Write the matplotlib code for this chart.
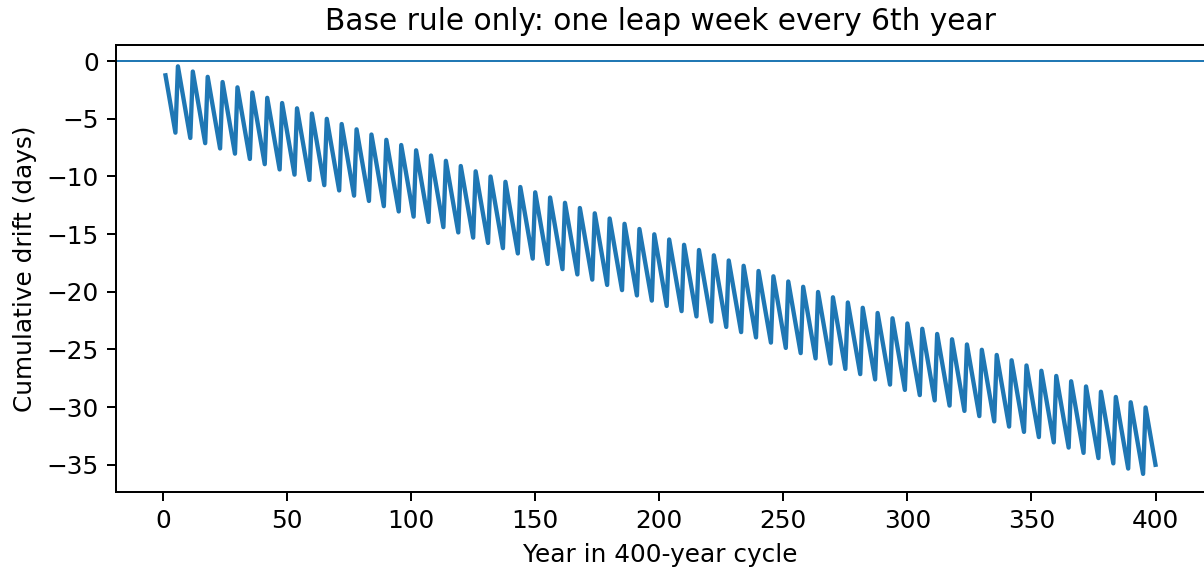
import numpy as np
import matplotlib
matplotlib.use('Agg')
import matplotlib.pyplot as plt

# Drift vertices of the sawtooth (days), base rule: leap week every 6th year
start_year = 1
start_drift = -1.24
end_year = 400
end_drift = -35.0

# year 6k+5: lowest point before each leap week
trough_years = [5, 11, 17, 23, 29, 35, 41, 47, 53, 59, 65, 71, 77, 83, 89, 95, 101, 107, 113, 119,
                125, 131, 137, 143, 149, 155, 161, 167, 173, 179, 185, 191, 197, 203, 209, 215, 221,
                227, 233, 239, 245, 251, 257, 263, 269, 275, 281, 287, 293, 299, 305, 311, 317, 323,
                329, 335, 341, 347, 353, 359, 365, 371, 377, 383, 389, 395]
trough_drift = [-6.21, -6.67, -7.12, -7.58, -8.03, -8.49, -8.94, -9.40, -9.85, -10.31, -10.76,
                -11.22, -11.67, -12.13, -12.58, -13.04, -13.49, -13.95, -14.40, -14.86, -15.31,
                -15.77, -16.22, -16.68, -17.13, -17.59, -18.04, -18.50, -18.95, -19.41, -19.86,
                -20.32, -20.77, -21.23, -21.68, -22.14, -22.59, -23.05, -23.50, -23.96, -24.41,
                -24.87, -25.32, -25.78, -26.23, -26.69, -27.14, -27.60, -28.05, -28.51, -28.96,
                -29.42, -29.87, -30.33, -30.78, -31.24, -31.69, -32.15, -32.60, -33.06, -33.51,
                -33.97, -34.42, -34.88, -35.33, -35.79]

# year 6k: right after the leap week
peak_years = [6, 12, 18, 24, 30, 36, 42, 48, 54, 60, 66, 72, 78, 84, 90, 96, 102, 108, 114, 120,
              126, 132, 138, 144, 150, 156, 162, 168, 174, 180, 186, 192, 198, 204, 210, 216, 222,
              228, 234, 240, 246, 252, 258, 264, 270, 276, 282, 288, 294, 300, 306, 312, 318, 324,
              330, 336, 342, 348, 354, 360, 366, 372, 378, 384, 390, 396]
peak_drift = [-0.46, -0.91, -1.37, -1.82, -2.28, -2.73, -3.19, -3.64, -4.10, -4.55, -5.01, -5.46,
              -5.92, -6.37, -6.83, -7.28, -7.74, -8.19, -8.65, -9.10, -9.56, -10.01, -10.47,
              -10.92, -11.38, -11.83, -12.29, -12.74, -13.20, -13.65, -14.11, -14.56, -15.02,
              -15.47, -15.93, -16.38, -16.84, -17.29, -17.75, -18.20, -18.66, -19.11, -19.57,
              -20.02, -20.48, -20.93, -21.39, -21.84, -22.30, -22.75, -23.21, -23.66, -24.12,
              -24.57, -25.03, -25.48, -25.94, -26.39, -26.85, -27.30, -27.76, -28.21, -28.67,
              -29.12, -29.58, -30.03]

# interleave trough/peak vertices
years = [start_year]
drift = [start_drift]
for ty, td, py, pd_ in zip(trough_years, trough_drift, peak_years, peak_drift):
    years += [ty, py]
    drift += [td, pd_]
years.append(end_year)
drift.append(end_drift)

dpi = 178
fig = plt.figure(figsize=(1204/dpi, 573/dpi), dpi=dpi)
ax = fig.add_axes([116/1204, 1 - 492/573, 1089/1204, 447/573])
ax.plot(years, drift, lw=1.75)
ax.axhline(0, lw=0.8)
ax.set_ylim(-37.36, 1.39)
ax.set_title('Base rule only: one leap week every 6th year')
ax.set_xlabel('Year in 400-year cycle')
ax.set_ylabel('Cumulative drift (days)')

fig.savefig('out.png', dpi=dpi)
